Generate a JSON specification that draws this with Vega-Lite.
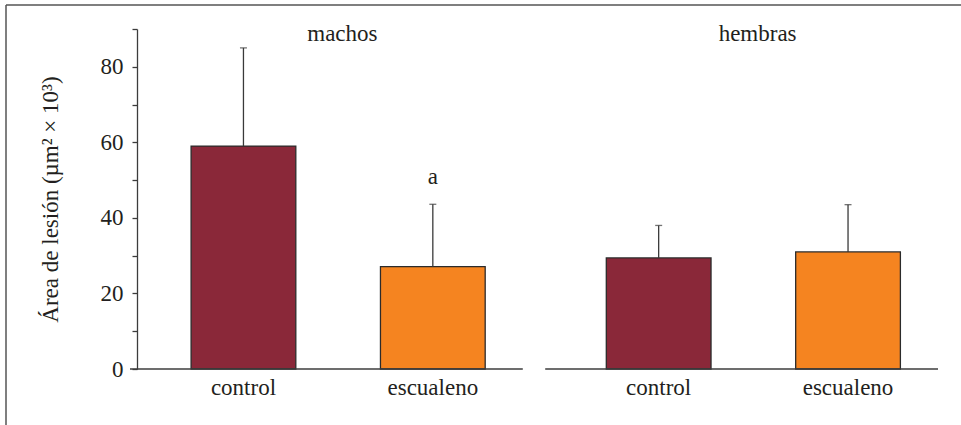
{
  "$schema": "https://vega.github.io/schema/vega-lite/v6.json",
  "width": 955,
  "height": 420,
  "autosize": {"type": "none"},
  "padding": {"left": 6, "top": 5, "right": 0, "bottom": 0},
  "background": "white",
  "config": {
    "view": {"stroke": "#555555", "strokeWidth": 1.5, "strokeDash": [955, 1375, 420, 0]},
    "font": "Liberation Serif, Tinos, Times New Roman, DejaVu Serif, serif",
    "text": {"font": "Liberation Serif, Tinos, Times New Roman, DejaVu Serif, serif"},
    "axis": {
      "labelFont": "Liberation Serif, Tinos, Times New Roman, DejaVu Serif, serif",
      "titleFont": "Liberation Serif, Tinos, Times New Roman, DejaVu Serif, serif"
    }
  },
  "data": {
    "values": [
      {"sexo": "machos", "tratamiento": "control", "area": 59.0, "sup": 85.0, "signo": ""},
      {"sexo": "machos", "tratamiento": "escualeno", "area": 27.1, "sup": 43.6, "signo": "a"},
      {"sexo": "hembras", "tratamiento": "control", "area": 29.4, "sup": 38.0, "signo": ""},
      {"sexo": "hembras", "tratamiento": "escualeno", "area": 31.0, "sup": 43.5, "signo": ""}
    ]
  },
  "encoding": {
    "x": {
      "field": "sexo",
      "type": "nominal",
      "sort": ["machos", "hembras"],
      "scale": {"range": [124, 932], "paddingInner": 0.054, "paddingOuter": 0},
      "axis": {
        "orient": "top",
        "offset": -35,
        "domain": false,
        "ticks": false,
        "labelPadding": 0,
        "labelBaseline": "alphabetic",
        "labelAngle": 0,
        "labelOffset": 16,
        "labelFont": "Liberation Serif, Tinos, Times New Roman, DejaVu Serif, serif",
        "labelFontSize": 23,
        "labelColor": "#231f20",
        "title": null
      }
    },
    "y": {
      "field": "area",
      "type": "quantitative",
      "scale": {"domain": [0, 90], "range": [364, 24], "nice": false},
      "axis": {
        "orient": "left",
        "offset": -131,
        "values": [0, 10, 20, 30, 40, 50, 60, 70, 80, 90],
        "labelExpr": "datum.value % 20 === 0 ? datum.label : ''",
        "grid": false,
        "domainColor": "#3c3c3c",
        "domainWidth": 1.3,
        "tickColor": "#3c3c3c",
        "tickWidth": 1.3,
        "tickSize": 5,
        "labelPadding": 9,
        "labelFont": "Liberation Serif, Tinos, Times New Roman, DejaVu Serif, serif",
        "labelFontSize": 23,
        "labelColor": "#231f20",
        "title": "Área de lesión (µm² × 10³)",
        "titleFont": "Liberation Serif, Tinos, Times New Roman, DejaVu Serif, serif",
        "titleFontSize": 23,
        "titleFontWeight": "normal",
        "titleColor": "#231f20",
        "titlePadding": 38
      }
    }
  },
  "layer": [
    {
      "mark": {"type": "bar", "stroke": "#2b2b2b", "strokeWidth": 1.3},
      "encoding": {
        "xOffset": {
          "field": "tratamiento",
          "type": "nominal",
          "sort": ["control", "escualeno"],
          "scale": {"paddingInner": 0.447, "paddingOuter": 0.2606, "align": 0.619}
        },
        "color": {
          "field": "tratamiento",
          "type": "nominal",
          "scale": {"domain": ["control", "escualeno"], "range": ["#8a2839", "#f58420"]},
          "legend": null
        }
      }
    },
    {
      "mark": {"type": "rule", "color": "#3a3a3a", "strokeWidth": 1.3},
      "encoding": {
        "xOffset": {"field": "tratamiento", "type": "nominal", "sort": ["control", "escualeno"]},
        "y2": {"field": "sup"}
      }
    },
    {
      "mark": {"type": "tick", "orient": "horizontal", "color": "#3a3a3a", "size": 7, "thickness": 1.3},
      "encoding": {
        "xOffset": {"field": "tratamiento", "type": "nominal", "sort": ["control", "escualeno"]},
        "y": {"field": "sup", "type": "quantitative"}
      }
    },
    {
      "mark": {"type": "text", "font": "Liberation Serif, Tinos, Times New Roman, DejaVu Serif, serif", "fontSize": 23, "color": "#231f20", "baseline": "alphabetic", "dy": -20},
      "encoding": {
        "xOffset": {"field": "tratamiento", "type": "nominal", "sort": ["control", "escualeno"]},
        "y": {"field": "sup", "type": "quantitative"},
        "text": {"field": "signo"}
      }
    },
    {
      "mark": {"type": "text", "font": "Liberation Serif, Tinos, Times New Roman, DejaVu Serif, serif", "fontSize": 23, "color": "#231f20", "baseline": "alphabetic", "dy": 26},
      "encoding": {
        "xOffset": {"field": "tratamiento", "type": "nominal", "sort": ["control", "escualeno"]},
        "y": {"datum": 0, "type": "quantitative"},
        "text": {"field": "tratamiento"}
      }
    },
    {
      "transform": [{"filter": "datum.tratamiento === 'control'"}],
      "mark": {"type": "rule", "color": "#3c3c3c", "strokeWidth": 1.3},
      "encoding": {
        "x": {
          "field": "sexo",
          "type": "nominal",
          "sort": ["machos", "hembras"],
          "bandPosition": 0,
          "scale": {"range": [124, 932], "paddingInner": 0.054, "paddingOuter": 0},
          "axis": {
            "orient": "top",
            "offset": -35,
            "domain": false,
            "ticks": false,
            "labelPadding": 0,
            "labelBaseline": "alphabetic",
            "labelAngle": 0,
            "labelOffset": 16,
            "labelFont": "Liberation Serif, Tinos, Times New Roman, DejaVu Serif, serif",
            "labelFontSize": 23,
            "labelColor": "#231f20",
            "title": null
          }
        },
        "x2": {"field": "sexo", "bandPosition": 1},
        "y": {"datum": 0, "type": "quantitative"}
      }
    }
  ]
}
